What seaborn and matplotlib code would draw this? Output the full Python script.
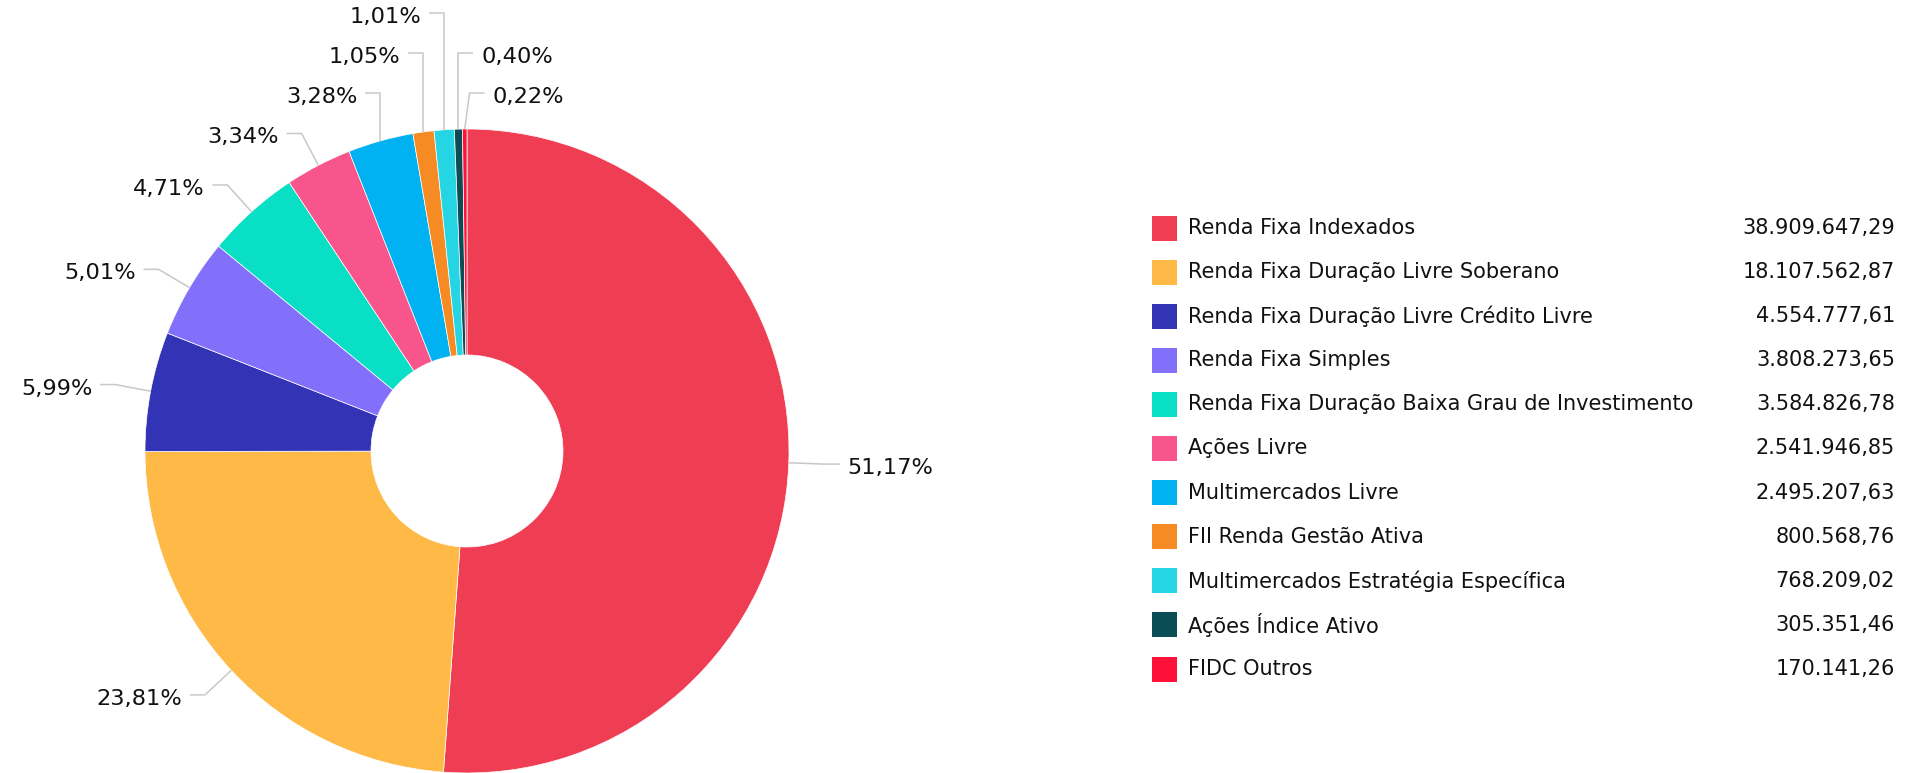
import numpy as np
import matplotlib.pyplot as plt
import seaborn as sns
import pandas as pd

categorias = [
    "Renda Fixa Indexados",
    "Renda Fixa Duração Livre Soberano",
    "Renda Fixa Duração Livre Crédito Livre",
    "Renda Fixa Simples",
    "Renda Fixa Duração Baixa Grau de Investimento",
    "Ações Livre",
    "Multimercados Livre",
    "FII Renda Gestão Ativa",
    "Multimercados Estratégia Específica",
    "Ações Índice Ativo",
    "FIDC Outros",
]
valores = [38909647.29, 18107562.87, 4554777.61, 3808273.65, 3584826.78,
           2541946.85, 2495207.63, 800568.76, 768209.02, 305351.46, 170141.26]
cores = ["#EF3E53", "#FFB946", "#3333B5", "#8270FA", "#08DFC5", "#F7558C",
         "#00B2F2", "#F68B24", "#26D5E3", "#0B4D55", "#FF1038"]


def br(v, dec=2):
    s = f"{v:,.{dec}f}"
    return s.replace(",", "X").replace(".", ",").replace("X", ".")


sns.set_theme(style="white")
plt.rcParams['font.family'] = ['DejaVu Sans']

W, H = 1921, 773
fig = plt.figure(figsize=(W / 100, H / 100), dpi=100)
ax = fig.add_axes([0, 0, 1, 1])

# pie geometry in pixel units (y up)
cx, cy, R, r_in = 467, 322, 322, 96
ax.pie(valores, colors=cores, startangle=90, counterclock=False, radius=R,
       center=(cx, cy), wedgeprops=dict(width=R - r_in, edgecolor="white", linewidth=0.5))

vals = np.array(valores)
frac = vals / vals.sum()
pct = frac * 100
mid = 360 * (np.cumsum(frac) - frac / 2)  # degrees clockwise from top

RL = 358      # label circle radius
gap = 40      # min vertical spacing between labels
lab_fs = 16.2
leg_fs = 15
lines = "#C8C8C8"

info = []
for i, th in enumerate(mid):
    t = np.radians(th)
    ex, ey = cx + R * np.sin(t), cy + R * np.cos(t)
    side = 1 if (th < 180 or th > 358) else -1
    order = th if side == -1 else -(th - 360 if th > 180 else th)
    info.append(dict(i=i, ex=ex, ey=ey, side=side, order=order,
                     y=cy + RL * np.cos(t)))

# push crowded labels upward, keeping the spacing
for side in (1, -1):
    items = sorted([d for d in info if d["side"] == side], key=lambda d: d["order"])
    prev = -1e9
    for d in items:
        d["y"] = max(d["y"], prev + gap)
        prev = d["y"]

for d in info:
    dy = d["y"] - cy
    s = d["side"]
    if abs(dy) >= RL:
        xe = d["ex"]
    else:
        dx = np.sqrt(RL ** 2 - dy ** 2)
        xe = max(cx + dx, d["ex"]) if s == 1 else min(cx - dx, d["ex"])
    xh = xe + s * 15
    ax.plot([d["ex"], xe, xh], [d["ey"], d["y"], d["y"]], color=lines, lw=1.1,
            solid_capstyle="butt", zorder=1)
    ax.text(xh + s * 8, d["y"] - 4, br(pct[d["i"]]) + "%", fontsize=lab_fs,
            ha="left" if s == 1 else "right", va="center", color="#111111")

# legend table
leg = pd.DataFrame({"categoria": categorias, "valor": valores})
leg["y"] = H - (228 + 44.1 * np.arange(len(leg)))
leg["x"] = 1164
sns.scatterplot(data=leg, x="x", y="y", hue="categoria", palette=cores,
                marker="s", s=324, linewidth=0, legend=False, ax=ax)
for _, row in leg.iterrows():
    ax.text(1188, row["y"], row["categoria"], fontsize=leg_fs, ha="left",
            va="center", color="#111111")
    ax.text(1895, row["y"], br(row["valor"]), fontsize=leg_fs, ha="right",
            va="center", color="#111111")

ax.set_xlim(0, W)
ax.set_ylim(0, H)
ax.set_aspect("auto")
ax.axis("off")

fig.savefig("out.png", dpi=100)
